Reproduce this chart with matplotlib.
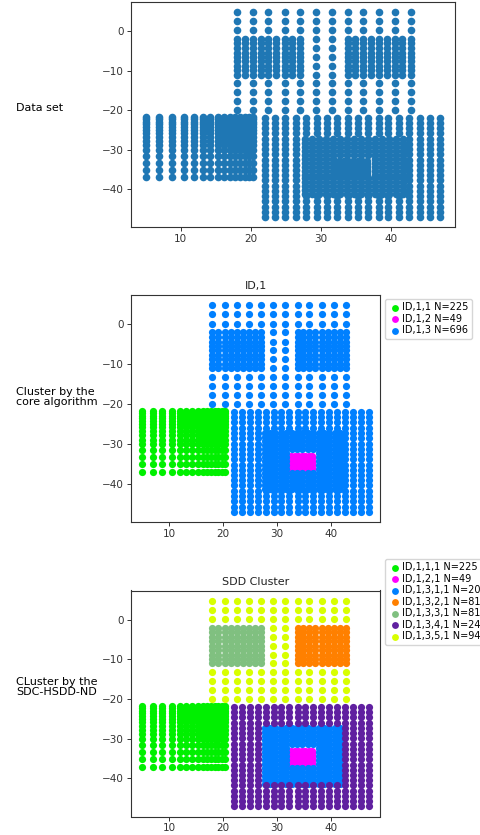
import matplotlib
matplotlib.use("Agg")
import matplotlib.pyplot as plt
import numpy as np

# upper region: sparse grid with two dense 9x9 blocks
sparse_x = [18.0, 20.3, 22.5, 24.8, 27.0, 29.3, 31.5, 33.8, 36.0, 38.3, 40.5, 42.8]
sparse_y = [4.8, 2.5, 0.2, -2.0, -4.3, -6.5, -8.8, -11.0, -13.2, -15.5, -17.7, -20.0]
block_y = [-2.0, -3.1, -4.3, -5.4, -6.5, -7.6, -8.8, -9.9, -11.0]
block_left_x = [18.0, 19.1, 20.3, 21.4, 22.5, 23.6, 24.8, 25.9, 27.0]
block_right_x = [33.8, 34.9, 36.0, 37.1, 38.3, 39.4, 40.5, 41.6, 42.8]

# lower-left region (denser towards the top right)
ll_x = [5.0, 6.9, 8.7, 10.5, 11.9, 13.1, 14.2, 15.3, 16.2, 17.0, 17.8, 18.5, 19.1, 19.7, 20.3]
ll_y = [-37.0, -35.1, -33.3, -31.5, -30.1, -28.9, -27.8, -26.7, -25.8, -25.0, -24.2, -23.5, -22.9, -22.3, -21.7]

# lower-right region: outer frame, inner square, centre square
lr_x = [22.0, 23.5, 24.9, 26.4, 27.9, 29.4, 30.8, 32.3, 33.8, 35.2, 36.7, 38.2, 39.6, 41.1, 42.6, 44.1, 45.5, 47.0]
lr_y = [-22.0, -23.3, -24.6, -25.9, -27.3, -28.6, -29.9, -31.2, -32.5, -33.8, -35.2, -36.5, -37.8,
        -39.1, -40.4, -41.7, -43.1, -44.4, -45.7, -47.0]
in_x = [27.7, 28.7, 29.7, 30.7, 31.7, 32.7, 33.7, 34.7, 35.7, 36.7, 37.7, 38.7, 39.7, 40.7, 41.7]
in_y = [-27.3, -28.3, -29.3, -30.3, -31.3, -32.3, -33.3, -34.3, -35.3, -36.3, -37.3, -38.3, -39.3, -40.3, -41.3]
mid_x = [32.6, 33.25, 33.9, 34.55, 35.2, 35.85, 36.5]
mid_y = [-33.0, -33.6, -34.2, -34.8, -35.4, -36.0, -36.6]

labels_core = ["ID,1,1 N=225", "ID,1,2 N=49", "ID,1,3 N=696"]
colors_core = ["#00f000", "#ff00ff", "#0080ff"]
labels_sdd = ["ID,1,1,1 N=225", "ID,1,2,1 N=49", "ID,1,3,1,1 N=200", "ID,1,3,2,1 N=81",
              "ID,1,3,3,1 N=81", "ID,1,3,4,1 N=240", "ID,1,3,5,1 N=94"]
colors_sdd = ["#00f000", "#ff00ff", "#0080ff", "#ff8000", "#80c080", "#6020a0", "#d8ff00"]


def grid(xs, ys):
    gx, gy = np.meshgrid(xs, ys)
    return np.column_stack([gx.ravel(), gy.ravel()])


def inside(pts, xs, ys):
    return ((pts[:, 0] >= min(xs) - 0.1) & (pts[:, 0] <= max(xs) + 0.1) &
            (pts[:, 1] >= min(ys) - 0.1) & (pts[:, 1] <= max(ys) + 0.1))


sparse = grid(sparse_x, sparse_y)
sparse = sparse[~inside(sparse, block_left_x, block_y) & ~inside(sparse, block_right_x, block_y)]
blk_l = grid(block_left_x, block_y)
blk_r = grid(block_right_x, block_y)
lower_left = grid(ll_x, ll_y)
outer = grid(lr_x, lr_y)
outer = outer[~inside(outer, [27.5, 41.9], [-27.1, -41.5])]
inner = grid(in_x, in_y)
inner = inner[~inside(inner, in_x[5:10], in_y[5:10])]
centre = grid(mid_x, mid_y)

W, H = 480, 835
fig = plt.figure(figsize=(W / 100, H / 100), dpi=100)


def box(l, r, t, b):
    return [l / W, 1 - b / H, (r - l) / W, (b - t) / H]


def style(ax):
    ax.tick_params(labelsize=7.5, length=3, width=0.7, pad=2, colors="#333333")
    for s in ax.spines.values():
        s.set_linewidth(0.8)
        s.set_color("#333333")
    ax.set_yticks([0, -10, -20, -30, -40])
    ax.set_xticks([10, 20, 30, 40])


leg_kw = dict(loc="upper left", bbox_transform=fig.transFigure, fontsize=7, borderaxespad=0,
              handletextpad=0.1, borderpad=0.35, labelspacing=0.15, handlelength=1.3, frameon=True)

# panel 1: data set
ax1 = fig.add_axes(box(131, 455, 2, 227))
allpts = np.vstack([lower_left, centre, inner, blk_r, blk_l, outer, sparse])
ax1.scatter(allpts[:, 0], allpts[:, 1], s=30, color="#1f77b4", linewidths=0)
style(ax1)

# panel 2: core algorithm
ax2 = fig.add_axes(box(131, 380, 295, 522))
core = [lower_left, centre, np.vstack([inner, blk_r, blk_l, outer, sparse])]
for pts, lab, col in zip(core, labels_core, colors_core):
    ax2.scatter(pts[:, 0], pts[:, 1], s=27, color=col, linewidths=0, label=lab)
ax2.set_title("ID,1", fontsize=8, pad=4, color="#222222")
style(ax2)
ax2.legend(bbox_to_anchor=(385 / W, 1 - 299 / H), markerscale=0.95, **leg_kw)

# panel 3: SDD cluster
ax3 = fig.add_axes(box(131, 380, 590.5, 816.5))
sdd = [lower_left, centre, inner, blk_r, blk_l, outer, sparse]
for pts, lab, col in zip(sdd, labels_sdd, colors_sdd):
    ax3.scatter(pts[:, 0], pts[:, 1], s=27, color=col, linewidths=0, label=lab)
ax3.set_title("SDD Cluster", fontsize=8, pad=4, color="#222222")
style(ax3)
ax3.legend(bbox_to_anchor=(385 / W, 1 - 559 / H), markerscale=0.95, **leg_kw)

fig.text(16 / W, 1 - 108 / H, "Data set", fontsize=8, va="center", ha="left")
fig.text(16 / W, 1 - 397 / H, "Cluster by the\ncore algorithm", fontsize=8, va="center", ha="left",
         linespacing=1.0)
fig.text(16 / W, 1 - 687 / H, "CLuster by the\nSDC-HSDD-ND", fontsize=8, va="center", ha="left",
         linespacing=1.0)

fig.savefig("out.png", dpi=100)
